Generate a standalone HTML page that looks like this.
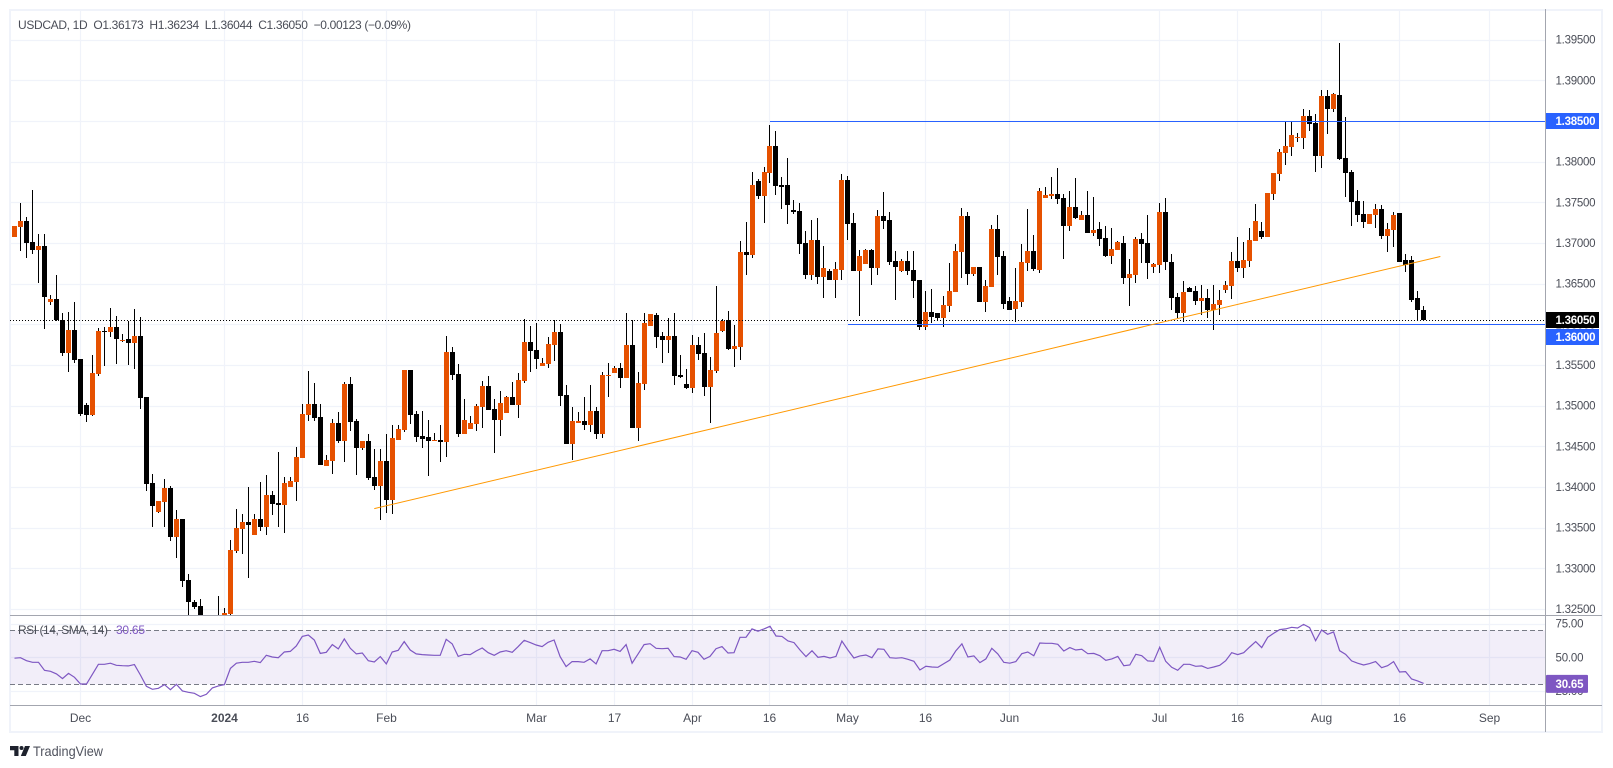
<!DOCTYPE html>
<html lang="en">
<head>
<meta charset="utf-8">
<title>USDCAD 1D chart</title>
<style>
html,body{margin:0;padding:0;background:#fff;width:1613px;height:768px;overflow:hidden}
svg{display:block;font-family:"Liberation Sans",sans-serif}
</style>
</head>
<body>
<svg id="chart" xmlns="http://www.w3.org/2000/svg" width="1613" height="768" viewBox="0 0 1613 768">
  <defs>
    <clipPath id="pricePaneClip"><rect x="10" y="10" width="1535" height="605"/></clipPath>
    <clipPath id="rsiPaneClip"><rect x="10" y="616" width="1535" height="89"/></clipPath>
  </defs>
  <rect x="10" y="10" width="1592" height="722" fill="#fff" stroke="#f0f3fa" stroke-width="2"/>
  <g id="gridLayer"></g>
  <g id="rsiBackLayer" clip-path="url(#rsiPaneClip)"></g>
  <g id="candleLayer" clip-path="url(#pricePaneClip)"></g>
  <g id="overlayLayer"></g>
  <g id="rsiLayer" clip-path="url(#rsiPaneClip)"></g>
  <g id="axisLayer"></g>

  <text x="18" y="29" font-size="12" fill="#4a4d57" textLength="393" lengthAdjust="spacing" xml:space="preserve">USDCAD, 1D  O1.36173  H1.36234  L1.36044  C1.36050  −0.00123 (−0.09%)</text>
  <text x="18" y="634" font-size="12" fill="#4a4d57" textLength="90" lengthAdjust="spacing">RSI (14, SMA, 14)</text>
  <text x="116" y="634" font-size="12" fill="#7e57c2" textLength="29" lengthAdjust="spacing">30.65</text>

  <g>
    <path d="M10 746h8.500v10h-4.200v-5.800h-4.300zM25 746h5l-4.200 10h-5z" fill="#1e222d"/>
    <circle cx="21.500" cy="748" r="2" fill="#1e222d"/>
    <text x="33" y="756" font-size="14" fill="#50535e" textLength="70" lengthAdjust="spacingAndGlyphs">TradingView</text>
  </g>
</svg>
<script>
const opens=[1.3707,1.3720,1.3727,1.3701,1.3691,1.3696,1.3627,1.3631,1.3605,1.3565,
1.3593,1.3557,1.3501,1.3489,1.3539,1.3592,1.3591,1.3597,1.3580,1.3582,
1.3577,1.3586,1.3511,1.3405,1.3369,1.3382,1.3399,1.3339,1.3361,1.3286,
1.3259,1.3254,1.3212,1.3194,1.3178,1.3212,1.3244,1.3321,1.3348,1.3357,
1.3341,1.3361,1.3351,1.3390,1.3380,1.3378,1.3400,1.3406,1.3436,1.3489,
1.3502,1.3486,1.3426,1.3432,1.3479,1.3457,1.3527,1.3481,1.3448,1.3457,
1.3412,1.3401,1.3432,1.3384,1.3458,1.3470,1.3544,1.3490,1.3463,1.3462,
1.3457,1.3458,1.3455,1.3566,1.3539,1.3465,1.3471,1.3478,1.3498,1.3524,
1.3496,1.3482,1.3491,1.3511,1.3501,1.3530,1.3578,1.3568,1.3549,1.3551,
1.3575,1.3591,1.3513,1.3453,1.3479,1.3481,1.3476,1.3493,1.3465,1.3536,
1.3540,1.3546,1.3534,1.3575,1.3473,1.3527,1.3598,1.3611,1.3586,1.3581,
1.3586,1.3538,1.3527,1.3522,1.3575,1.3565,1.3523,1.3543,1.3592,1.3605,
1.3570,1.3572,1.3689,1.3685,1.3776,1.3758,1.3786,1.3819,1.3771,1.3771,
1.3741,1.3739,1.3700,1.3661,1.3704,1.3658,1.3666,1.3655,1.3667,1.3777,
1.3725,1.3666,1.3674,1.3691,1.3669,1.3733,1.3728,1.3678,1.3666,1.3678,
1.3667,1.3655,1.3597,1.3615,1.3614,1.3608,1.3623,1.3640,1.3689,1.3733,
1.3662,1.3670,1.3627,1.3646,1.3717,1.3684,1.3629,1.3619,1.3627,1.3675,
1.3690,1.3667,1.3755,1.3758,1.3760,1.3755,1.3721,1.3744,1.3728,1.3734,
1.3712,1.3717,1.3706,1.3684,1.3691,1.3700,1.3657,1.3661,1.3705,1.3700,
1.3670,1.3673,1.3738,1.3677,1.3634,1.3614,1.3645,1.3641,1.3629,1.3632,
1.3618,1.3624,1.3642,1.3647,1.3678,1.3669,1.3678,1.3702,1.3715,1.3707,
1.3760,1.3785,1.3811,1.3818,1.3829,1.3829,1.3856,1.3847,1.3807,1.3881,
1.3865,1.3882,1.3804,1.3787,1.3752,1.3736,1.3723,1.3734,1.3742,1.3709,
1.3716,1.3737,1.3679,1.3679,1.3632,1.3617];
const highs=[1.3721,1.3749,1.3732,1.3765,1.3711,1.3711,1.3636,1.3661,1.3614,1.3615,
1.3627,1.3557,1.3503,1.3562,1.3596,1.3597,1.3620,1.3610,1.3588,1.3604,
1.3619,1.3609,1.3511,1.3416,1.3383,1.3410,1.3401,1.3372,1.3361,1.3293,
1.3261,1.3262,1.3220,1.3205,1.3266,1.3251,1.3335,1.3373,1.3367,1.3400,
1.3367,1.3406,1.3415,1.3395,1.3443,1.3412,1.3412,1.3449,1.3502,1.3543,
1.3528,1.3502,1.3439,1.3484,1.3492,1.3529,1.3535,1.3484,1.3457,1.3465,
1.3447,1.3447,1.3465,1.3476,1.3476,1.3544,1.3544,1.3493,1.3493,1.3482,
1.3466,1.3476,1.3586,1.3572,1.3551,1.3508,1.3487,1.3502,1.3530,1.3536,
1.3508,1.3518,1.3512,1.3529,1.3540,1.3607,1.3598,1.3602,1.3559,1.3584,
1.3605,1.3600,1.3525,1.3498,1.3492,1.3511,1.3525,1.3498,1.3541,1.3552,
1.3549,1.3552,1.3614,1.3605,1.3541,1.3614,1.3613,1.3614,1.3591,1.3608,
1.3614,1.3562,1.3545,1.3587,1.3584,1.3589,1.3560,1.3647,1.3607,1.3616,
1.3599,1.3702,1.3726,1.3787,1.3779,1.3793,1.3845,1.3838,1.3781,1.3804,
1.3753,1.3749,1.3715,1.3728,1.3731,1.3696,1.3668,1.3677,1.3785,1.3782,
1.3737,1.3691,1.3693,1.3693,1.3741,1.3763,1.3738,1.3690,1.3680,1.3690,
1.3690,1.3655,1.3641,1.3643,1.3614,1.3635,1.3675,1.3699,1.3743,1.3738,
1.3670,1.3670,1.3655,1.3722,1.3734,1.3690,1.3634,1.3669,1.3699,1.3742,
1.3710,1.3768,1.3769,1.3781,1.3792,1.3760,1.3764,1.3780,1.3739,1.3764,
1.3756,1.3726,1.3721,1.3718,1.3702,1.3709,1.3680,1.3707,1.3712,1.3734,
1.3675,1.3749,1.3755,1.3686,1.3638,1.3653,1.3646,1.3647,1.3648,1.3643,
1.3648,1.3642,1.3653,1.3689,1.3707,1.3701,1.3718,1.3748,1.3726,1.3761,
1.3786,1.3815,1.3849,1.3849,1.3835,1.3865,1.3863,1.3858,1.3888,1.3888,
1.3884,1.3946,1.3855,1.3790,1.3765,1.3752,1.3736,1.3748,1.3747,1.3725,
1.3738,1.3737,1.3686,1.3684,1.3641,1.3623];
const lows=[1.3707,1.3690,1.3682,1.3686,1.3651,1.3594,1.3624,1.3604,1.3561,1.3541,
1.3552,1.3487,1.3480,1.3487,1.3536,1.3549,1.3584,1.3551,1.3578,1.3550,
1.3545,1.3496,1.3395,1.3351,1.3368,1.3351,1.3334,1.3313,1.3277,1.3237,
1.3250,1.3207,1.3185,1.3170,1.3170,1.3205,1.3240,1.3319,1.3318,1.3288,
1.3341,1.3346,1.3341,1.3366,1.3351,1.3344,1.3400,1.3383,1.3436,1.3481,
1.3481,1.3427,1.3426,1.3416,1.3454,1.3431,1.3469,1.3415,1.3446,1.3409,
1.3396,1.3360,1.3368,1.3367,1.3458,1.3468,1.3478,1.3455,1.3448,1.3414,
1.3457,1.3431,1.3437,1.3532,1.3462,1.3465,1.3471,1.3469,1.3473,1.3495,
1.3442,1.3463,1.3491,1.3501,1.3485,1.3528,1.3541,1.3545,1.3549,1.3546,
1.3555,1.3500,1.3453,1.3433,1.3479,1.3470,1.3468,1.3459,1.3460,1.3511,
1.3540,1.3522,1.3534,1.3473,1.3457,1.3519,1.3598,1.3571,1.3552,1.3565,
1.3525,1.3534,1.3520,1.3516,1.3556,1.3512,1.3479,1.3540,1.3591,1.3568,
1.3548,1.3556,1.3661,1.3682,1.3754,1.3725,1.3774,1.3759,1.3742,1.3723,
1.3736,1.3686,1.3656,1.3655,1.3650,1.3632,1.3655,1.3632,1.3655,1.3704,
1.3666,1.3610,1.3674,1.3648,1.3661,1.3717,1.3673,1.3630,1.3664,1.3661,
1.3632,1.3593,1.3593,1.3602,1.3604,1.3597,1.3615,1.3640,1.3657,1.3648,
1.3659,1.3627,1.3615,1.3646,1.3661,1.3619,1.3618,1.3603,1.3621,1.3666,
1.3666,1.3663,1.3755,1.3754,1.3748,1.3680,1.3715,1.3729,1.3728,1.3712,
1.3709,1.3696,1.3683,1.3674,1.3691,1.3650,1.3623,1.3651,1.3675,1.3656,
1.3663,1.3663,1.3667,1.3618,1.3608,1.3603,1.3640,1.3624,1.3611,1.3608,
1.3593,1.3611,1.3638,1.3631,1.3664,1.3657,1.3670,1.3702,1.3705,1.3707,
1.3753,1.3776,1.3796,1.3807,1.3824,1.3815,1.3838,1.3787,1.3792,1.3834,
1.3861,1.3802,1.3756,1.3721,1.3726,1.3718,1.3723,1.3718,1.3705,1.3689,
1.3695,1.3676,1.3664,1.3628,1.3605,1.3604];
const closes=[1.3721,1.3727,1.3700,1.3691,1.3696,1.3634,1.3631,1.3605,1.3565,1.3593,
1.3556,1.3490,1.3489,1.3540,1.3592,1.3591,1.3597,1.3582,1.3581,1.3577,
1.3586,1.3509,1.3404,1.3377,1.3383,1.3399,1.3339,1.3361,1.3285,1.3258,
1.3253,1.3212,1.3194,1.3178,1.3212,1.3245,1.3323,1.3350,1.3357,1.3353,
1.3361,1.3351,1.3390,1.3379,1.3378,1.3405,1.3407,1.3437,1.3490,1.3502,
1.3485,1.3427,1.3433,1.3479,1.3457,1.3527,1.3480,1.3448,1.3457,1.3411,
1.3401,1.3432,1.3384,1.3460,1.3471,1.3544,1.3489,1.3462,1.3459,1.3457,
1.3458,1.3455,1.3566,1.3538,1.3465,1.3482,1.3479,1.3500,1.3524,1.3495,
1.3482,1.3503,1.3511,1.3501,1.3532,1.3578,1.3567,1.3557,1.3552,1.3576,
1.3591,1.3512,1.3453,1.3481,1.3481,1.3476,1.3493,1.3465,1.3538,1.3538,
1.3546,1.3534,1.3575,1.3473,1.3528,1.3602,1.3613,1.3584,1.3581,1.3586,
1.3536,1.3535,1.3522,1.3575,1.3564,1.3523,1.3544,1.3589,1.3604,1.3570,
1.3573,1.3689,1.3685,1.3771,1.3758,1.3787,1.3819,1.3770,1.3769,1.3747,
1.3738,1.3699,1.3661,1.3704,1.3658,1.3669,1.3655,1.3668,1.3777,1.3723,
1.3666,1.3684,1.3691,1.3669,1.3733,1.3727,1.3677,1.3670,1.3678,1.3666,
1.3653,1.3597,1.3615,1.3609,1.3608,1.3624,1.3641,1.3690,1.3733,1.3662,
1.3670,1.3627,1.3647,1.3717,1.3683,1.3625,1.3618,1.3629,1.3677,1.3690,
1.3668,1.3764,1.3759,1.3760,1.3754,1.3721,1.3744,1.3731,1.3734,1.3712,
1.3716,1.3705,1.3684,1.3693,1.3701,1.3657,1.3662,1.3705,1.3699,1.3675,
1.3674,1.3738,1.3677,1.3632,1.3614,1.3640,1.3640,1.3629,1.3632,1.3618,
1.3625,1.3630,1.3648,1.3678,1.3669,1.3679,1.3704,1.3727,1.3707,1.3761,
1.3786,1.3812,1.3819,1.3833,1.3830,1.3856,1.3846,1.3807,1.3881,1.3865,
1.3883,1.3803,1.3786,1.3750,1.3734,1.3726,1.3736,1.3742,1.3709,1.3717,
1.3734,1.3677,1.3673,1.3630,1.3617,1.3605];
const rsiValues=[49.3,49.7,47.5,46.3,46.3,40.4,39.6,37.7,34.2,38.1,
35.2,30.2,30.2,37.4,44.8,44.8,45.6,44.1,43.8,43.6,
44.6,36.9,28.5,26.3,27.0,29.8,26.0,30.0,25.1,24.1,
23.3,20.9,22.6,27.3,28.8,29.8,41.8,45.6,46.3,46.3,
47.0,46.1,51.5,50.2,49.7,53.9,54.4,58.4,65.5,66.5,
62.8,52.9,53.7,59.4,56.2,63.6,56.7,52.5,53.2,47.5,
46.5,50.5,45.1,53.9,55.2,61.6,55.4,52.5,52.0,51.7,
51.5,51.5,63.3,59.9,50.7,52.2,52.0,54.7,56.9,53.4,
51.5,53.9,54.9,53.7,57.9,62.6,60.9,59.1,57.9,61.1,
62.8,50.5,43.1,46.8,46.8,46.3,48.8,45.1,54.9,54.9,
55.9,54.4,59.4,45.6,52.5,59.4,60.1,56.7,56.4,56.7,
50.5,50.2,48.5,54.9,53.7,48.5,50.7,56.4,57.9,53.2,
53.4,64.8,64.8,71.0,69.3,71.0,73.0,65.8,65.5,62.1,
60.9,55.4,50.5,54.9,50.0,50.7,49.5,50.7,62.1,55.4,
49.5,51.0,51.7,49.7,56.2,55.9,49.7,49.3,49.7,48.5,
47.0,40.6,43.3,42.8,42.6,45.3,48.0,54.9,59.9,50.2,
51.0,46.1,48.8,56.7,52.5,46.3,45.6,46.8,52.7,53.9,
51.2,60.6,60.4,60.4,59.6,54.7,57.2,55.4,55.9,52.7,
52.9,51.2,47.8,48.8,50.7,43.8,44.3,52.2,51.2,47.3,
47.0,57.4,47.0,42.6,40.4,44.8,44.8,43.3,43.6,41.8,
42.8,44.1,47.5,53.4,52.0,53.4,57.6,61.6,57.2,64.8,
67.8,70.5,71.0,72.2,71.7,74.4,72.0,62.3,70.2,67.0,
68.8,54.9,52.2,47.3,45.6,44.3,45.3,46.8,42.3,43.8,
46.8,39.1,39.4,33.9,32.5,30.65];
const priceTicks=[1.395,1.39,1.385,1.38,1.375,1.37,1.365,1.36,1.355,1.35,1.345,1.34,1.335,1.33,1.325];
const rsiTicks=[75,50,25];
const rsiBands=[70,30];
const timeTickBars=[11,35,48,62,87,100,113,126,139,152,166,191,204,218,231,246];
const timeTickLabels=["Dec","2024","16","Feb","Mar","17","Apr","16","May","16","Jun","Jul","16","Aug","16","Sep"];
const timeTickStrong=["2024"];
const resistanceLevel=1.385;
const resistanceStartBar=126;
const supportLevel=1.36;
const supportStartBar=139;
const lastPrice=1.3605;
const trendBars=[60,237.8];
const trendPrices=[1.33734,1.36834];
const lastRsi=30.65;

const NS="http://www.w3.org/2000/svg";
const PANE_LEFT=10, PANE_RIGHT=1545, RSI_BOTTOM=705, FRAME_BOTTOM=732;
function xAt(i){return 14.5+5.996*i;}
function yPrice(p){return 324.3-(p-1.36)/0.005*40.67;}
function yRsi(v){return 630.3+(70-v)*1.35;}
function make(tag,parent,attrs,text){
  const el=document.createElementNS(NS,tag);
  for(const k in attrs)el.setAttribute(k,attrs[k]);
  if(text!==undefined)el.textContent=text;
  document.getElementById(parent).appendChild(el);
  return el;
}
let el;

priceTicks.forEach(function(p){
  const y=Math.round(yPrice(p))+0.5;
  el=make('line','gridLayer',{x1:PANE_LEFT,x2:PANE_RIGHT,y1:y,y2:y,stroke:'#f0f3fa','stroke-width':1.2});
  
  
  el=make('text','axisLayer',{x:1555.5,y:yPrice(p)+4,'font-size':11.5,'letter-spacing':-0.25,fill:'#4a4d57'},p.toFixed(5));
  
  
});
rsiTicks.forEach(function(v){
  const y=Math.round(yRsi(v))+0.5;
  el=make('line','gridLayer',{x1:PANE_LEFT,x2:PANE_RIGHT,y1:y,y2:y,stroke:'#f0f3fa','stroke-width':1.2});
  
  
  el=make('text','axisLayer',{x:1555.5,y:yRsi(v)+4,'font-size':11.5,'letter-spacing':-0.2,fill:'#4a4d57'},v.toFixed(2));
  
  
});
timeTickBars.forEach(function(b,k){
  const x=Math.floor(xAt(b))+0.5;
  el=make('line','gridLayer',{x1:x,x2:x,y1:10,y2:RSI_BOTTOM,stroke:'#f0f3fa','stroke-width':1.2});
  
  
  const lbl=timeTickLabels[k];
  el=make('text','axisLayer',{x:x,y:722,'font-size':12,'text-anchor':'middle',fill:'#4a4d57','font-weight':timeTickStrong.indexOf(lbl)>=0?'bold':'normal'},lbl);
  
  
});

el=make('rect','rsiBackLayer',{x:PANE_LEFT,y:yRsi(rsiBands[0]),width:PANE_RIGHT-PANE_LEFT,height:yRsi(rsiBands[1])-yRsi(rsiBands[0]),fill:'#7e57c2','fill-opacity':0.1});


rsiBands.forEach(function(v){
  const y=Math.round(yRsi(v))+0.5;
  el=make('line','rsiBackLayer',{x1:PANE_LEFT,x2:PANE_RIGHT,y1:y,y2:y,stroke:'#787b86','stroke-width':1,'stroke-dasharray':'5 3'});
  
  
});

opens.forEach(function(o,i){
  const c=closes[i], cx=Math.floor(xAt(i));
  const fill=c>=o?'#e65100':'#000000';
  const yH=Math.round(yPrice(highs[i])), yL=Math.round(yPrice(lows[i]));
  const top=Math.round(yPrice(Math.max(o,c))), bot=Math.round(yPrice(Math.min(o,c)));
  el=make('rect','candleLayer',{x:cx,y:yH,width:1,height:Math.max(1,yL-yH),fill:'#000000'});
  
  
  el=make('rect','candleLayer',{x:cx-2,y:top,width:5,height:Math.max(1,bot-top),fill:fill});
  
  
});

const yLast=Math.round(yPrice(lastPrice))+0.5;
el=make('line','overlayLayer',{x1:PANE_LEFT,x2:PANE_RIGHT,y1:yLast,y2:yLast,stroke:'#000','stroke-width':1,'stroke-dasharray':'1 2'});



const yRes=Math.round(yPrice(resistanceLevel))+0.5;
el=make('line','overlayLayer',{x1:xAt(resistanceStartBar),x2:PANE_RIGHT,y1:yRes,y2:yRes,stroke:'#2962ff','stroke-width':1});



const ySup=Math.round(yPrice(supportLevel))+0.5;
el=make('line','overlayLayer',{x1:xAt(supportStartBar),x2:PANE_RIGHT,y1:ySup,y2:ySup,stroke:'#2962ff','stroke-width':1});



el=make('line','overlayLayer',{x1:xAt(trendBars[0]),y1:yPrice(trendPrices[0]),x2:xAt(trendBars[1]),y2:yPrice(trendPrices[1]),stroke:'#ff9800','stroke-width':1});



el=make('polyline','rsiLayer',{points:rsiValues.map(function(v,i){return xAt(i).toFixed(1)+','+yRsi(v).toFixed(1);}).join(' '),fill:'none',stroke:'#7e57c2','stroke-width':1.2});



[[1545.5,9,1545.5,FRAME_BOTTOM],[10,615.5,1602,615.5],[10,RSI_BOTTOM+0.5,1602,RSI_BOTTOM+0.5]].forEach(function(s){
  el=make('line','axisLayer',{x1:s[0],y1:s[1],x2:s[2],y2:s[3],stroke:'#a3a6af','stroke-width':1});
  
  
});

const boxes=[{yc:yPrice(resistanceLevel),color:'#2962ff'},{yc:yPrice(lastPrice),color:'#000000'},{yc:yPrice(supportLevel)+12.7,color:'#2962ff'}];
const boxLabels=[resistanceLevel,lastPrice,supportLevel];
boxes.forEach(function(b,k){
  el=make('rect','axisLayer',{x:1546,y:Math.round(b.yc)-8,width:53,height:16,fill:b.color});
  
  
  el=make('text','axisLayer',{x:1555.5,y:b.yc+4,'font-size':11.5,'letter-spacing':-0.25,fill:'#fff','font-weight':'bold'},boxLabels[k].toFixed(5));
  
  
});

const yLastRsi=yRsi(lastRsi);
el=make('rect','axisLayer',{x:1546,y:yLastRsi-8.500,width:42,height:18,rx:1,fill:'#7e57c2'});


el=make('text','axisLayer',{x:1555.5,y:yLastRsi+4.500,'font-size':11.5,'letter-spacing':-0.2,fill:'#fff','font-weight':'bold'},lastRsi.toFixed(2));


</script>
</body>
</html>
